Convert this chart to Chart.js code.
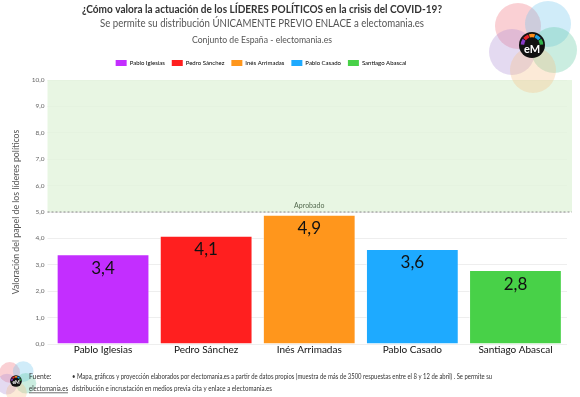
<!DOCTYPE html>
<html>
<head>
<meta charset="utf-8">
<script src="https://cdn.jsdelivr.net/npm/chart.js@4/dist/chart.umd.min.js"></script>
<style>
  html, body { margin: 0; padding: 0; background: #fff; }
  #wrap { width: 580px; height: 397px; position: relative; }
</style>
</head>
<body>
<div id="wrap"><canvas id="lideres"></canvas></div>
<script>
// ---------- data ----------
const lideres = ['Pablo Iglesias', 'Pedro Sánchez', 'Inés Arrimadas', 'Pablo Casado', 'Santiago Abascal'];
const valoracion = [3.4, 4.1, 4.9, 3.6, 2.8];
const colores = ['#c32eff', '#ff1f1f', '#ff961c', '#1eaaff', '#48d148'];
const aprobado = 5;

const FONT = 'Lato, "Open Sans", sans-serif';
const coma = v => v.toFixed(1).replace('.', ',');

// ---------- little electomania logo ----------
function drawLogo(ctx, cx, cy, s) {
  const petals = [
    [-14, -19, 'rgba(240,110,120,0.32)'],
    [16, -21, 'rgba(110,195,235,0.32)'],
    [-20, 7, 'rgba(170,140,210,0.32)'],
    [22, 5, 'rgba(90,200,160,0.32)'],
    [1, 25, 'rgba(245,190,130,0.32)']
  ];
  ctx.save();
  petals.forEach(p => {
    ctx.beginPath();
    ctx.arc(cx + p[0] * s, cy + p[1] * s, 23 * s, 0, Math.PI * 2);
    ctx.fillStyle = p[2];
    ctx.fill();
  });
  ctx.beginPath();
  ctx.arc(cx, cy, 13 * s, 0, Math.PI * 2);
  ctx.fillStyle = '#111';
  ctx.fill();
  const arcs = ['#8a3cc8', '#e8232a', '#ff8c1a', '#1ea0e6', '#2fb24a'];
  arcs.forEach((c, i) => {
    const a0 = Math.PI * (1.0 + i * 0.2) + 0.04;
    const a1 = a0 + Math.PI * 0.2 - 0.08;
    ctx.beginPath();
    ctx.arc(cx, cy, 9.5 * s, a0, a1);
    ctx.strokeStyle = c;
    ctx.lineWidth = 3.5 * s;
    ctx.stroke();
  });
  ctx.fillStyle = '#fff';
  ctx.font = 'bold ' + (11 * s) + 'px ' + FONT;
  ctx.textAlign = 'center';
  ctx.textBaseline = 'middle';
  ctx.fillText('eM', cx, cy + 4 * s);
  ctx.restore();
}

// ---------- extra drawing ----------
const decoracion = {
  id: 'decoracion',
  beforeDraw(chart) {
    // centre the legend like the original and lift it a little
    const lg = chart.legend;
    lg.left = 0;
    lg.right = 522;
    lg.top -= 4;
  },
  beforeDatasetsDraw(chart) {
    const ctx = chart.ctx;
    const y = chart.scales.y;
    const a = chart.chartArea;
    const top = y.getPixelForValue(10);
    const mid = y.getPixelForValue(aprobado);
    ctx.save();
    ctx.fillStyle = 'rgba(226,244,220,0.8)';
    ctx.fillRect(a.left - 4, top, a.right - a.left + 9, mid - top);
    ctx.beginPath();
    ctx.setLineDash([2, 2]);
    ctx.moveTo(a.left - 4, mid);
    ctx.lineTo(a.right + 5, mid);
    ctx.strokeStyle = '#888';
    ctx.lineWidth = 1;
    ctx.stroke();
    ctx.setLineDash([]);
    ctx.fillStyle = '#556b50';
    ctx.font = '7px ' + FONT;
    ctx.textAlign = 'center';
    ctx.textBaseline = 'bottom';
    ctx.fillText('Aprobado', (a.left + a.right) / 2, mid - 3, 31);
    ctx.restore();
  },
  afterDatasetsDraw(chart) {
    const ctx = chart.ctx;
    const meta = chart.getDatasetMeta(0);
    ctx.save();
    ctx.fillStyle = '#111';
    ctx.font = '17px ' + FONT;
    ctx.textAlign = 'center';
    ctx.textBaseline = 'middle';
    meta.data.forEach((bar, i) => {
      ctx.fillText(coma(valoracion[i]), bar.x, bar.y + 14);
    });
    ctx.restore();
  },
  afterDraw(chart) {
    const ctx = chart.ctx;
    ctx.save();
    ctx.textAlign = 'center';
    ctx.textBaseline = 'middle';
    ctx.fillStyle = '#333';
    ctx.font = 'bold 11.5px ' + FONT;
    ctx.fillText('¿Cómo valora la actuación de los LÍDERES POLÍTICOS en la crisis del COVID-19?', 262, 9, 360);
    ctx.fillStyle = '#555';
    ctx.font = '11.5px ' + FONT;
    ctx.fillText('Se permite su distribución ÚNICAMENTE PREVIO ENLACE a electomania.es', 262, 23, 324);
    ctx.font = '9.3px ' + FONT;
    ctx.fillText('Conjunto de España - electomania.es', 262, 40, 140);

    drawLogo(ctx, 532, 45, 1);
    drawLogo(ctx, 16, 381, 0.45);

    // footer
    ctx.textAlign = 'left';
    ctx.fillStyle = '#333';
    ctx.font = '6.8px ' + FONT;
    ctx.fillText('Fuente:', 29, 377);
    ctx.fillText('electomania.es', 29, 389, 39);
    ctx.fillRect(29, 392.5, 39, 0.7);
    ctx.fillText('• Mapa, gráficos y proyección elaborados por electomania.es a partir de datos propios (muestra de más de 3500 respuestas entre el 8 y 12 de abril) . Se permite su', 72, 377, 420);
    ctx.fillText('distribución e incrustación en medios previa cita y enlace a electomania.es', 72, 389, 200);
    ctx.restore();
  }
};

new Chart(document.getElementById('lideres'), {
  type: 'bar',
  data: {
    labels: lideres,
    datasets: [{
      data: valoracion,
      backgroundColor: colores,
      borderColor: 'rgba(255,255,255,0.5)',
      borderWidth: 1,
      barPercentage: 0.9,
      categoryPercentage: 1
    }]
  },
  options: {
    responsive: true,
    maintainAspectRatio: false,
    animation: false,
    layout: { padding: { top: 57, left: 8, right: 13, bottom: 41 } },
    plugins: {
      tooltip: { enabled: false },
      legend: {
        position: 'top',
        labels: {
          boxWidth: 11,
          boxHeight: 6,
          padding: 7,
          color: '#444',
          font: { family: FONT, size: 6 },
          generateLabels: chart => lideres.map((n, i) => ({
            text: n,
            fillStyle: colores[i],
            strokeStyle: colores[i],
            lineWidth: 0,
            index: i,
            datasetIndex: 0
          }))
        }
      }
    },
    scales: {
      x: {
        grid: { display: false, drawTicks: false },
        border: { display: false },
        ticks: { color: '#111', font: { family: FONT, size: 10 }, padding: 0 }
      },
      y: {
        min: 0,
        max: 10,
        border: { display: false },
        grid: { color: '#eeeeee', tickLength: 4 },
        ticks: {
          stepSize: 1,
          color: '#666',
          padding: 3,
          font: { family: FONT, size: 6.5 },
          callback: v => coma(v)
        },
        title: {
          display: true,
          text: 'Valoración del papel de los líderes políticos',
          color: '#555',
          font: { family: FONT, size: 8.8 },
          padding: { top: 3, bottom: 4 }
        },
        afterFit(scale) { scale.width = 43.5; }
      }
    }
  },
  plugins: [decoracion]
});
</script>
</body>
</html>
